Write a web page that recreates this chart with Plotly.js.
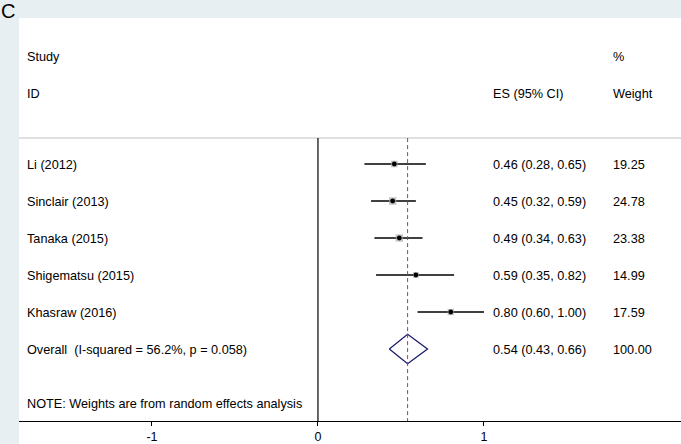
<!DOCTYPE html>
<html>
<head>
<meta charset="utf-8">
<script src="https://cdn.plot.ly/plotly-3.0.1.min.js"></script>
<style>html,body{margin:0;padding:0;background:#e8eff2;}#chart{width:681px;height:444px;}</style>
</head>
<body>
<div id="chart"></div>
<script>
// ---- data ----
const studies = ["Li (2012)", "Sinclair (2013)", "Tanaka (2015)", "Shigematsu (2015)", "Khasraw (2016)"];
const es      = [0.46, 0.45, 0.49, 0.59, 0.80];
const ciLow   = [0.28, 0.32, 0.34, 0.35, 0.60];
const ciHigh  = [0.65, 0.59, 0.63, 0.82, 1.00];
const weights = [19.25, 24.78, 23.38, 14.99, 17.59];
const overallLabel = "Overall  (I-squared = 56.2%, p = 0.058)";
const overallES = 0.54, overallLow = 0.43, overallHigh = 0.66, overallWeight = 100.00;
const note = "NOTE: Weights are from random effects analysis";
const xTicks = [-1, 0, 1];
const xTickLabels = ["-1", "0", "1"];

// ---- layout helpers ----
const rows = studies.map((_, i) => i + 1);
const overallRow = studies.length + 1;
const FONT = {family: "Liberation Sans, Arial, sans-serif", size: 12.7, color: "#000"};
const fmt = (v) => v.toFixed(2);
const colStudy = 0.0106, colES = 0.7145, colW = 0.8958;

const traces = [];
// CI lines
traces.push({
  x: es, y: rows, type: "scatter", mode: "markers",
  marker: {size: 0.1, color: "rgba(0,0,0,0)"},
  error_x: {type: "data", symmetric: false,
    array: es.map((v, i) => ciHigh[i] - v),
    arrayminus: es.map((v, i) => v - ciLow[i]),
    width: 0, thickness: 1.3, color: "#000"},
  hoverinfo: "skip", showlegend: false
});
// weight boxes
traces.push({
  x: es, y: rows, type: "scatter", mode: "markers",
  marker: {symbol: "square", size: weights.map(w => Math.sqrt(w) * 1.5), color: "#a9a9a9", line: {width: 0}},
  hoverinfo: "skip", showlegend: false
});
// point estimates
traces.push({
  x: es, y: rows, type: "scatter", mode: "markers",
  marker: {symbol: "circle", size: 4.8, color: "#000"},
  hoverinfo: "skip", showlegend: false
});
// overall diamond
const h = 0.4;
traces.push({
  x: [overallLow, overallES, overallHigh, overallES, overallLow],
  y: [overallRow, overallRow - h, overallRow, overallRow + h, overallRow],
  type: "scatter", mode: "lines",
  line: {color: "#1b1b6b", width: 1.3},
  hoverinfo: "skip", showlegend: false
});

const annotations = [];
function addText(text, xp, y) {
  annotations.push({text: text, x: xp, xref: "paper", y: y, yref: "y",
    xanchor: "left", yanchor: "middle", showarrow: false, font: FONT, borderpad: 0});
}
addText("Study", colStudy, -1.9);
addText("ID", colStudy, -0.9);
addText("%", colW, -1.9);
addText("ES (95% CI)", colES, -0.9);
addText("Weight", colW, -0.9);
studies.forEach((s, i) => {
  addText(s, colStudy, rows[i] + 0.02);
  addText(fmt(es[i]) + " (" + fmt(ciLow[i]) + ", " + fmt(ciHigh[i]) + ")", colES, rows[i] + 0.02);
  addText(fmt(weights[i]), colW, rows[i] + 0.02);
});
addText(overallLabel, colStudy, overallRow + 0.02);
addText(fmt(overallES) + " (" + fmt(overallLow) + ", " + fmt(overallHigh) + ")", colES, overallRow + 0.02);
addText(fmt(overallWeight), colW, overallRow + 0.02);
addText(note, colStudy, 7.49);
// panel letter
annotations.push({text: "C", x: 0, xref: "paper", xshift: -19, y: 1, yref: "paper", yshift: 19,
  xanchor: "left", yanchor: "top", showarrow: false, borderpad: 0,
  font: {family: "Liberation Sans, Arial, sans-serif", size: 20, color: "#000"}});

const yTop = -2.946, yBottom = 7.946, sepY = 0.3;
const shapes = [
  // white area below the axis
  {type: "rect", xref: "paper", yref: "paper", x0: 0, x1: 1, y0: -23/403, y1: 0,
   fillcolor: "#fff", line: {width: 0}, layer: "below"},
  // header separator
  {type: "line", xref: "paper", yref: "y", x0: 0, x1: 1, y0: sepY, y1: sepY,
   line: {color: "#d6d6d6", width: 1.5}},
  // null line
  {type: "line", xref: "x", yref: "y", x0: 0, x1: 0, y0: sepY, y1: yBottom,
   line: {color: "#000", width: 1.2}},
  // overall effect line
  {type: "line", xref: "x", yref: "y", x0: overallES, x1: overallES, y0: sepY, y1: yBottom,
   line: {color: "#b03a4e", width: 1, dash: "4px,3px"}}
];

const layout = {
  width: 681, height: 444,
  margin: {l: 19, r: 0, t: 18, b: 23, pad: 0},
  paper_bgcolor: "#e8eff2", plot_bgcolor: "#fff",
  showlegend: false,
  xaxis: {range: [-1.801, 2.187], tickvals: xTicks, ticktext: xTickLabels,
    showgrid: false, zeroline: false, showline: true, linecolor: "#000", linewidth: 1.2,
    ticks: "outside", ticklen: 4, tickwidth: 1, tickcolor: "#000",
    tickfont: {family: "Liberation Sans, Arial, sans-serif", size: 12.5, color: "#000"}, fixedrange: true},
  yaxis: {range: [yBottom, yTop], visible: false, showgrid: false, zeroline: false, fixedrange: true},
  shapes: shapes,
  annotations: annotations
};

Plotly.newPlot("chart", traces, layout, {staticPlot: true, displayModeBar: false});
</script>
</body>
</html>
